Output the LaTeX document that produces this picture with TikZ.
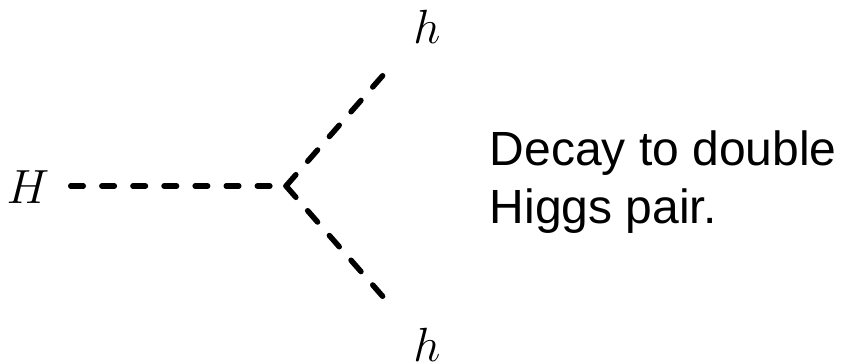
\RequirePackage{fix-cm}
\documentclass[tikz,border=0pt]{standalone}
\usepackage{fontspec}
\setmainfont{Liberation Sans}
\begin{document}
\begin{tikzpicture}[x=1pt,y=-1pt,
  big/.style={font=\fontsize{48}{58}\selectfont, inner sep=0pt},
  scalar/.style={line width=5.5pt, line cap=round},
  hdash/.style={scalar, dash pattern=on 12.5pt off 18.6pt},
  ddash/.style={scalar, dash pattern=on 15pt off 17.9pt}]
\useasboundingbox (0,0) rectangle (841,364);
\node[big, anchor=base] (H) at (28,203) {$H$};
\node[big, anchor=base] (h1) at (427,43) {$h$};
\node[big, anchor=base] (h2) at (427,361) {$h$};
\coordinate (a) at (70.75,186);
\coordinate (v) at (286,186);
\coordinate (u) at (385,73);
\coordinate (l) at (385,299);
\draw[hdash] (a) -- (v);
\draw[ddash] (v) -- (u);
\draw[ddash] (v) -- (l);
\node[big, anchor=base west, align=left] (txt) at (489.5,223) {Decay to double\\Higgs pair.};
\end{tikzpicture}
\end{document}
